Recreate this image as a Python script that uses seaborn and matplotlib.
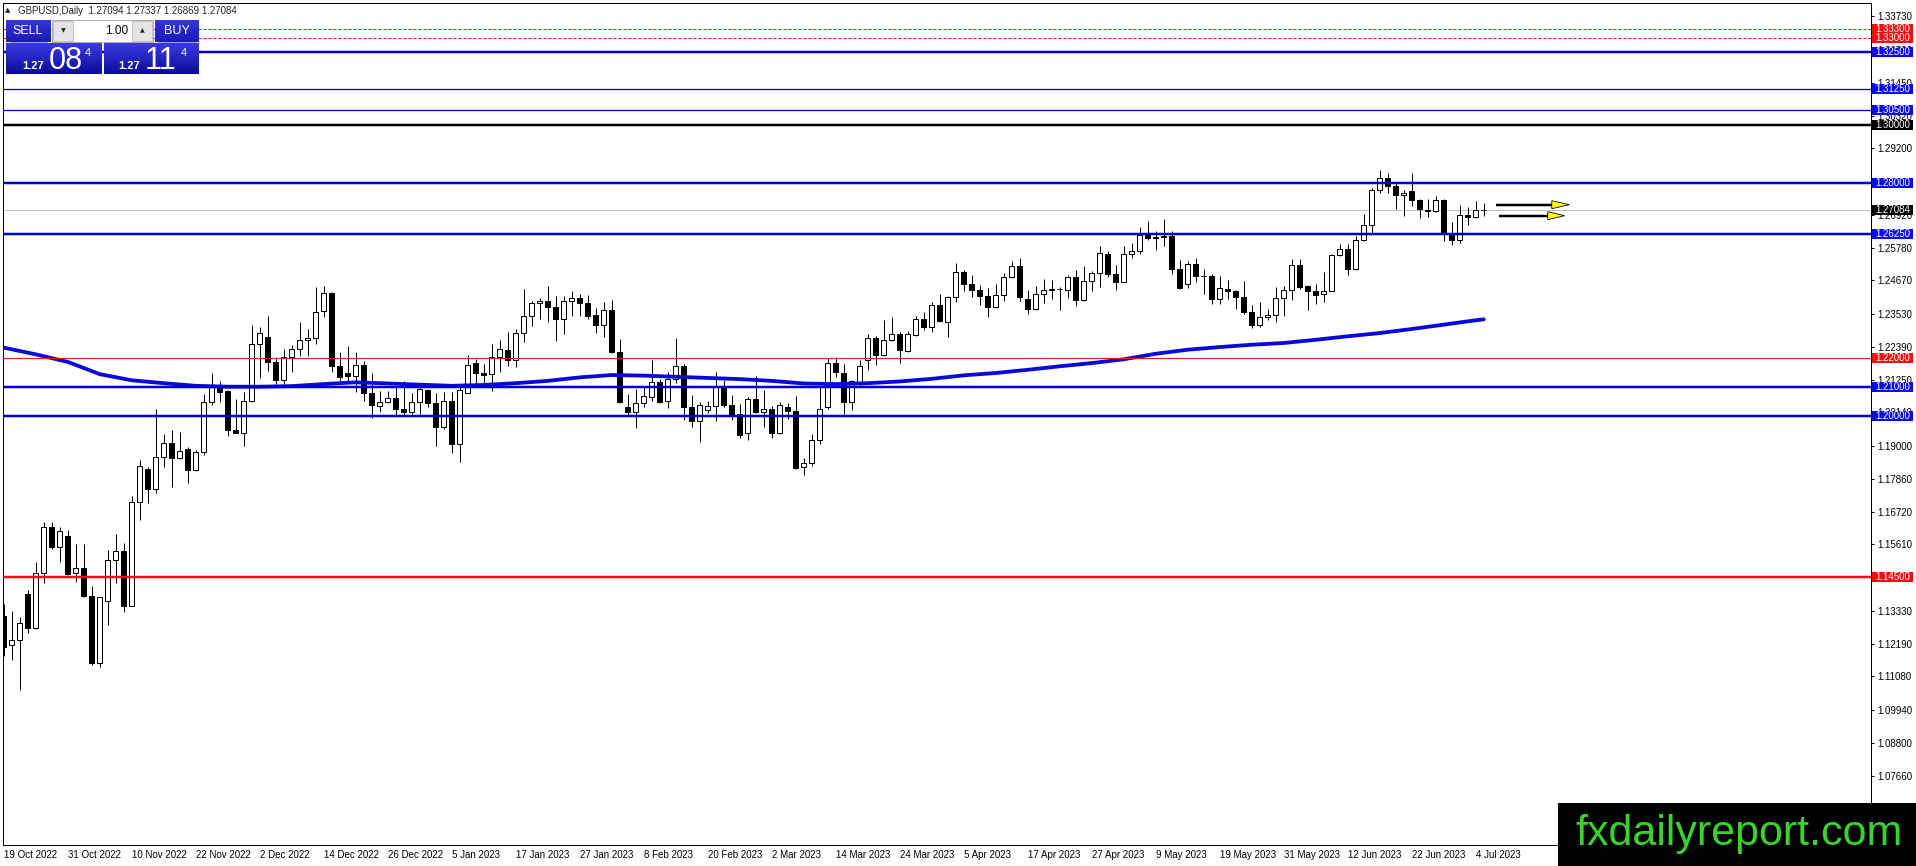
import numpy as np
import matplotlib
matplotlib.use("Agg")
import matplotlib.pyplot as plt
import matplotlib.transforms as mtransforms
from matplotlib.patches import Rectangle, Polygon
from matplotlib.colors import LinearSegmentedColormap
import seaborn as sns

# ----- daily GBPUSD candles, 19 Oct 2022 .. 5 Jul 2023 -----
opens = [1.1316, 1.1216, 1.1233, 1.1390, 1.1273, 1.1464, 1.1622, 1.1553, 1.1590, 1.1462,
         1.1479, 1.1384, 1.1153, 1.1365, 1.1508, 1.1539, 1.1350, 1.1708, 1.1819, 1.1750,
         1.1860, 1.1910, 1.1857, 1.1887, 1.1817, 1.1879, 1.2048, 1.2108, 1.2088, 1.1954,
         1.1942, 1.2053, 1.2249, 1.2274, 1.2186, 1.2126, 1.2203, 1.2233, 1.2262, 1.2268,
         1.2363, 1.2422, 1.2174, 1.2148, 1.2140, 1.2177, 1.2079, 1.2037, 1.2048, 1.2062,
         1.2027, 1.2014, 1.2050, 1.2090, 1.2045, 1.1962, 1.2052, 1.1907, 1.2082, 1.2182,
         1.2149, 1.2145, 1.2205, 1.2228, 1.2193, 1.2285, 1.2343, 1.2389, 1.2397, 1.2374,
         1.2336, 1.2397, 1.2408, 1.2389, 1.2348, 1.2313, 1.2366, 1.2220, 1.2031, 1.2016,
         1.2045, 1.2065, 1.2117, 1.2054, 1.2130, 1.2172, 1.2031, 1.1985, 1.2023, 1.2037,
         1.2105, 1.2040, 1.2010, 1.1942, 1.2060, 1.2016, 1.2025, 1.1942, 1.2031, 1.2020,
         1.1825, 1.1839, 1.1920, 1.2031, 1.2182, 1.2149, 1.2049, 1.2114, 1.2195, 1.2269,
         1.2210, 1.2261, 1.2283, 1.2226, 1.2278, 1.2334, 1.2307, 1.2382, 1.2324, 1.2410,
         1.2496, 1.2456, 1.2435, 1.2412, 1.2374, 1.2415, 1.2478, 1.2517, 1.2403, 1.2369,
         1.2420, 1.2437, 1.2437, 1.2435, 1.2478, 1.2401, 1.2466, 1.2492, 1.2559, 1.2489,
         1.2461, 1.2557, 1.2569, 1.2630, 1.2617, 1.2620, 1.2620, 1.2507, 1.2455, 1.2523,
         1.2481, 1.2483, 1.2403, 1.2437, 1.2432, 1.2410, 1.2358, 1.2313, 1.2341, 1.2347,
         1.2406, 1.2433, 1.2521, 1.2449, 1.2432, 1.2420, 1.2429, 1.2554, 1.2575, 1.2506,
         1.2607, 1.2656, 1.2778, 1.2818, 1.2790, 1.2759, 1.2773, 1.2744, 1.2710, 1.2704,
         1.2744, 1.2630, 1.2604, 1.2692, 1.2684, 1.27094]
highs = [1.1357, 1.1333, 1.1311, 1.1405, 1.1499, 1.1636, 1.1639, 1.1622, 1.1611, 1.1563,
         1.1563, 1.1418, 1.1382, 1.1540, 1.1597, 1.1565, 1.1727, 1.1849, 1.1828, 1.2026,
         1.1940, 1.1954, 1.1946, 1.1894, 1.1885, 1.2076, 1.2148, 1.2123, 1.2091, 1.2060,
         1.2085, 1.2312, 1.2306, 1.2344, 1.2205, 1.2233, 1.2245, 1.2325, 1.2300, 1.2443,
         1.2446, 1.2426, 1.2222, 1.2240, 1.2222, 1.2191, 1.2148, 1.2088, 1.2088, 1.2100,
         1.2122, 1.2079, 1.2100, 1.2094, 1.2082, 1.2085, 1.2085, 1.2100, 1.2210, 1.2197,
         1.2180, 1.2248, 1.2262, 1.2288, 1.2300, 1.2437, 1.2397, 1.2405, 1.2448, 1.2412,
         1.2412, 1.2429, 1.2420, 1.2416, 1.2371, 1.2394, 1.2400, 1.2265, 1.2077, 1.2094,
         1.2105, 1.2193, 1.2128, 1.2151, 1.2269, 1.2180, 1.2073, 1.2048, 1.2054, 1.2151,
         1.2126, 1.2073, 1.2042, 1.2068, 1.2140, 1.2090, 1.2037, 1.2048, 1.2046, 1.2069,
         1.1859, 1.1939, 1.2105, 1.2199, 1.2203, 1.2181, 1.2126, 1.2192, 1.2283, 1.2277,
         1.2332, 1.2341, 1.2288, 1.2292, 1.2346, 1.2360, 1.2391, 1.2420, 1.2414, 1.2527,
         1.2504, 1.2486, 1.2452, 1.2441, 1.2454, 1.2492, 1.2535, 1.2544, 1.2435, 1.2449,
         1.2472, 1.2467, 1.2444, 1.2486, 1.2504, 1.2515, 1.2498, 1.2584, 1.2569, 1.2521,
         1.2586, 1.2595, 1.2650, 1.2670, 1.2637, 1.2679, 1.2637, 1.2538, 1.2532, 1.2544,
         1.2506, 1.2490, 1.2483, 1.2469, 1.2435, 1.2466, 1.2383, 1.2393, 1.2369, 1.2444,
         1.2446, 1.2540, 1.2540, 1.2452, 1.2454, 1.2496, 1.2557, 1.2590, 1.2592, 1.2620,
         1.2695, 1.2784, 1.2847, 1.2835, 1.2801, 1.2778, 1.2835, 1.2746, 1.2746, 1.2758,
         1.2746, 1.2666, 1.2727, 1.2719, 1.2738, 1.27337]
lows = [1.1178, 1.1165, 1.1060, 1.1256, 1.1270, 1.1428, 1.1544, 1.1499, 1.1456, 1.1433,
        1.1382, 1.1147, 1.1139, 1.1285, 1.1428, 1.1330, 1.1348, 1.1643, 1.1704, 1.1736,
        1.1828, 1.1759, 1.1853, 1.1773, 1.1813, 1.1868, 1.2040, 1.2051, 1.1933, 1.1942,
        1.1897, 1.2048, 1.2131, 1.2157, 1.2110, 1.2111, 1.2153, 1.2206, 1.2208, 1.2248,
        1.2340, 1.2153, 1.2119, 1.2122, 1.2085, 1.2054, 1.1993, 1.2016, 1.2046, 1.2005,
        1.2005, 1.2008, 1.2008, 1.2031, 1.1899, 1.1957, 1.1873, 1.1842, 1.2082, 1.2111,
        1.2111, 1.2088, 1.2151, 1.2172, 1.2168, 1.2254, 1.2311, 1.2334, 1.2323, 1.2260,
        1.2283, 1.2343, 1.2343, 1.2336, 1.2286, 1.2271, 1.2217, 1.2046, 1.2005, 1.1959,
        1.2034, 1.2054, 1.2046, 1.2029, 1.2114, 1.1989, 1.1965, 1.1913, 1.2011, 1.1985,
        1.2031, 1.1989, 1.1926, 1.1920, 1.2011, 1.1965, 1.1925, 1.1939, 1.1991, 1.1819,
        1.1799, 1.1831, 1.1905, 1.2027, 1.2134, 1.2008, 1.2023, 1.2103, 1.2160, 1.2175,
        1.2206, 1.2258, 1.2185, 1.2220, 1.2275, 1.2298, 1.2288, 1.2323, 1.2272, 1.2391,
        1.2429, 1.2409, 1.2383, 1.2341, 1.2372, 1.2395, 1.2475, 1.2395, 1.2352, 1.2364,
        1.2389, 1.2403, 1.2364, 1.2406, 1.2380, 1.2397, 1.2431, 1.2443, 1.2478, 1.2433,
        1.2460, 1.2544, 1.2557, 1.2606, 1.2572, 1.2584, 1.2490, 1.2437, 1.2441, 1.2460,
        1.2420, 1.2387, 1.2387, 1.2403, 1.2369, 1.2353, 1.2303, 1.2307, 1.2330, 1.2323,
        1.2344, 1.2398, 1.2437, 1.2364, 1.2387, 1.2392, 1.2429, 1.2550, 1.2485, 1.2501,
        1.2601, 1.2626, 1.2767, 1.2767, 1.2712, 1.2687, 1.2721, 1.2681, 1.2684, 1.2700,
        1.2601, 1.2587, 1.2595, 1.2656, 1.2681, 1.26869]
closes = [1.1210, 1.1233, 1.1290, 1.1273, 1.1464, 1.1622, 1.1553, 1.1608, 1.1460, 1.1479,
          1.1384, 1.1153, 1.1379, 1.1508, 1.1539, 1.1350, 1.1708, 1.1830, 1.1750, 1.1860,
          1.1910, 1.1857, 1.1883, 1.1817, 1.1879, 1.2048, 1.2108, 1.2085, 1.1952, 1.1942,
          1.2053, 1.2249, 1.2286, 1.2186, 1.2126, 1.2203, 1.2233, 1.2262, 1.2269, 1.2360,
          1.2422, 1.2174, 1.2134, 1.2140, 1.2177, 1.2079, 1.2040, 1.2048, 1.2062, 1.2025,
          1.2016, 1.2050, 1.2094, 1.2045, 1.1962, 1.2052, 1.1907, 1.2090, 1.2177, 1.2148,
          1.2143, 1.2205, 1.2231, 1.2193, 1.2285, 1.2343, 1.2389, 1.2397, 1.2374, 1.2336,
          1.2397, 1.2408, 1.2389, 1.2346, 1.2313, 1.2366, 1.2220, 1.2048, 1.2016, 1.2045,
          1.2071, 1.2117, 1.2050, 1.2130, 1.2172, 1.2031, 1.1985, 1.2039, 1.2037, 1.2105,
          1.2040, 1.2008, 1.1937, 1.2060, 1.2014, 1.2025, 1.1942, 1.2040, 1.2020, 1.1822,
          1.1839, 1.1920, 1.2027, 1.2182, 1.2151, 1.2049, 1.2120, 1.2174, 1.2269, 1.2210,
          1.2261, 1.2283, 1.2227, 1.2283, 1.2334, 1.2306, 1.2382, 1.2326, 1.2410, 1.2496,
          1.2456, 1.2433, 1.2412, 1.2374, 1.2415, 1.2478, 1.2515, 1.2409, 1.2369, 1.2420,
          1.2435, 1.2434, 1.2436, 1.2478, 1.2401, 1.2466, 1.2492, 1.2561, 1.2489, 1.2461,
          1.2557, 1.2569, 1.2624, 1.2612, 1.2612, 1.2615, 1.2506, 1.2441, 1.2523, 1.2481,
          1.2481, 1.2403, 1.2441, 1.2429, 1.2410, 1.2357, 1.2313, 1.2340, 1.2349, 1.2406,
          1.2433, 1.2521, 1.2443, 1.2429, 1.2416, 1.2429, 1.2554, 1.2575, 1.2506, 1.2607,
          1.2656, 1.2778, 1.2818, 1.2790, 1.2759, 1.2766, 1.2742, 1.2712, 1.2706, 1.2744,
          1.2627, 1.2604, 1.2692, 1.2684, 1.2709, 1.27084]

# moving average (blue line), read every 4 bars
ma_bars = [0, 4, 8, 12, 16, 20, 24, 28, 32, 36, 40, 44, 48, 52, 56, 60, 64, 68, 72, 76,
           80, 84, 88, 92, 96, 100, 104, 108, 112, 116, 120, 124, 128, 132, 136, 140,
           144, 148, 152, 156, 160, 164, 168, 172, 176, 180, 184, 185]
ma_vals = [1.2236, 1.2213, 1.2187, 1.2145, 1.2124, 1.2114, 1.2105, 1.2102, 1.2102, 1.2104,
           1.2111, 1.2117, 1.2113, 1.2109, 1.2105, 1.2108, 1.2114, 1.2122, 1.2134, 1.2142,
           1.2140, 1.2136, 1.2132, 1.2128, 1.2122, 1.2113, 1.2111, 1.2114, 1.2120, 1.2129,
           1.2141, 1.2149, 1.2160, 1.2172, 1.2183, 1.2196, 1.2215, 1.2229, 1.2238, 1.2246,
           1.2252, 1.2263, 1.2275, 1.2286, 1.2300, 1.2315, 1.2330, 1.2333]

date_labels = ["19 Oct 2022", "31 Oct 2022", "10 Nov 2022", "22 Nov 2022", "2 Dec 2022",
               "14 Dec 2022", "26 Dec 2022", "5 Jan 2023", "17 Jan 2023", "27 Jan 2023",
               "8 Feb 2023", "20 Feb 2023", "2 Mar 2023", "14 Mar 2023", "24 Mar 2023",
               "5 Apr 2023", "17 Apr 2023", "27 Apr 2023", "9 May 2023", "19 May 2023",
               "31 May 2023", "12 Jun 2023", "22 Jun 2023", "4 Jul 2023"]
price_ticks = [1.33730, 1.32590, 1.31450, 1.30320, 1.29200, 1.28060, 1.26920, 1.25780,
               1.24670, 1.23530, 1.22390, 1.21250, 1.20140, 1.19000, 1.17860, 1.16720,
               1.15610, 1.14470, 1.13330, 1.12190, 1.11080, 1.09940, 1.08800, 1.07660]

# horizontal levels: price, colour, width(px), style
level_prices = [1.3330, 1.3300, 1.3250, 1.3125, 1.3050, 1.3000, 1.2800, 1.2625,
                1.2200, 1.2100, 1.2000, 1.1450]
level_colors = ["#ee1010", "#ee1010", "#0000d0", "#0000d0", "#0000d0", "black", "#0000d0",
                "#0000d0", "#dd2020", "#0000d0", "#0000d0", "#ee1010"]
level_widths = [1, 1, 2.5, 1.3, 1.3, 2.5, 2.5, 2.5, 1.2, 2.5, 2.5, 2.5]
level_styles = ["--", "--", "-", "-", "-", "-", "-", "-", "-", "-", "-", "-"]
tag_colors = ["#f01010", "#f01010", "#0a0af0", "#0a0af0", "#0a0af0", "black", "#0a0af0",
              "#0a0af0", "#f01010", "#0a0af0", "#0a0af0", "#f01010"]
last_price = 1.27084

W, H = 1916, 866
sns.set_style("white")
plt.rcParams['font.family'] = ['Liberation Sans', 'DejaVu Sans']
PX = 0.72  # points per pixel at dpi 100

fig = plt.figure(figsize=(W / 100, H / 100), dpi=100)
fig.patch.set_facecolor("white")
ax = fig.add_axes([2.5 / W, (H - 845) / H, (1871 - 2.5) / W, (845 - 2.7) / H])
ymin, ymax = 1.05293, 1.34197
ax.set_xlim(-0.16, 233.4)
ax.set_ylim(ymin, ymax)
px_price = (ymax - ymin) / (845 - 2.7)

o = np.array(opens); h = np.array(highs); l = np.array(lows); c = np.array(closes)
x = np.arange(len(o))
up = c >= o
lo = np.minimum(o, c)
hgt = np.abs(c - o)

# current price line
ax.axhline(last_price, color="#c0c0c0", lw=1 * PX, zorder=1)

# candles
ax.vlines(x, l, h, color="black", lw=1 * PX, zorder=3)
ax.bar(x[up], hgt[up], bottom=lo[up], width=0.6, color="white", edgecolor="black",
       linewidth=1 * PX, zorder=4)
ax.bar(x[~up], hgt[~up], bottom=lo[~up], width=0.6, color="black", edgecolor="black",
       linewidth=1 * PX, zorder=4)

# moving average
sns.lineplot(x=ma_bars, y=ma_vals, ax=ax, color="#0a0ad8", lw=3.8 * PX, zorder=5)

# levels
for p, col, w, s in zip(level_prices, level_colors, level_widths, level_styles):
    ax.axhline(p, color=col, lw=w * PX, ls=s, zorder=5,
               dashes=(3, 2) if s == "--" else (None, None))

# arrows
for x0, x1, xh, yv in [(186.5, 193.5, 195.7, 1.27266), (186.9, 193.0, 195.1, 1.26888)]:
    ax.plot([x0, x1], [yv, yv], color="black", lw=2.5 * PX, zorder=6, solid_capstyle="butt")
    tri = Polygon([(x1, yv + 4 * px_price), (x1, yv - 4 * px_price), (xh, yv)],
                  closed=True, facecolor="#ffff00", edgecolor="black", lw=0.8 * PX, zorder=7)
    ax.add_patch(tri)

# axes look
for sp in ax.spines.values():
    sp.set_color("black")
    sp.set_linewidth(1 * PX)
ax.yaxis.tick_right()
ax.set_yticks(price_ticks)
ax.set_yticklabels([f"{p:.5f}" for p in price_ticks])
ax.set_xticks(range(0, 8 * len(date_labels), 8))
ax.set_xticklabels(date_labels)
ax.tick_params(axis="both", direction="out", length=3 * PX, width=1 * PX, labelsize=7,
               colors="black", pad=1.5)
ax.tick_params(axis="y", pad=2.5)
for lbl in ax.get_xticklabels():
    lbl.set_ha("left")
ax.set_xlabel("")
ax.set_ylabel("")
ax.grid(False)

# price tags on the right scale
tr = mtransforms.blended_transform_factory(mtransforms.IdentityTransform(), ax.transData)
tag_prices = level_prices + [last_price]
tag_cols = tag_colors + ["black"]
for p, col in zip(tag_prices, tag_cols):
    ax.add_patch(Rectangle((1872, p - 5 * px_price), 41, 10 * px_price, transform=tr,
                           facecolor=col, edgecolor="none", clip_on=False, zorder=10))
for p in tag_prices:
    ax.text(1875, p, f"{p:.5f}", transform=tr, color="white", fontsize=7, va="center",
            ha="left", clip_on=False, zorder=11)

# overlay in pixel units: header, trade panel, watermark
ov = fig.add_axes([0, 0, 1, 1])
ov.axis("off")

ov.text(8, 10.5, "▲", fontsize=5, va="center", ha="center", family=["DejaVu Sans"])
ov.text(18, 10.5, "GBPUSD,Daily  1.27094 1.27337 1.26869 1.27084", fontsize=7,
        va="center", ha="left")

grad = np.linspace(0, 1, 32).reshape(-1, 1)
big_cmap = LinearSegmentedColormap.from_list("big", ["#3a3ae4", "#0c0c9a"])
tab_cmap = LinearSegmentedColormap.from_list("tab", ["#3434dc", "#1a1ab4"])
for (x0, x1) in [(6, 102), (104, 199)]:
    ov.imshow(grad, cmap=big_cmap, extent=(x0, x1, 74, 43), aspect="auto", zorder=1)
for (x0, x1) in [(6, 51), (155, 199)]:
    ov.imshow(grad, cmap=tab_cmap, extent=(x0, x1, 42, 20), aspect="auto", zorder=1)
ov.plot([10, 47], [42, 42], color="#8a8aff", lw=0.6, zorder=2)
ov.plot([158, 196], [42, 42], color="#8a8aff", lw=0.6, zorder=2)
ov.add_patch(Rectangle((52, 20), 101, 22, facecolor="white", edgecolor="#a0a0a0", lw=0.6,
                       zorder=2))
ov.add_patch(Rectangle((53, 21), 20, 20, facecolor="#e4e4e4", edgecolor="#b0b0b0", lw=0.5,
                       zorder=3))
ov.add_patch(Rectangle((132, 21), 20, 20, facecolor="#e4e4e4", edgecolor="#b0b0b0", lw=0.5,
                       zorder=3))
ov.text(63, 31, "▼", fontsize=4.5, ha="center", va="center", family=["DejaVu Sans"], zorder=4)
ov.text(142, 31, "▲", fontsize=4.5, ha="center", va="center", family=["DejaVu Sans"], zorder=4)
ov.text(128, 31, "1.00", fontsize=8.5, ha="right", va="center", color="black", zorder=4)
ov.text(28, 31, "SELL", fontsize=9, ha="center", va="center", color="white", zorder=4)
ov.text(177, 31, "BUY", fontsize=9, ha="center", va="center", color="white", zorder=4)
for x0, big in [(22, "08"), (118, "11")]:
    ov.text(x0, 69, "1.27", fontsize=8, ha="left", va="baseline", color="white",
            fontweight="bold", zorder=4)
    ov.text(x0 + 27, 69, big, fontsize=22, ha="left", va="baseline", color="white", zorder=4)
    ov.text(x0 + 63, 56, "4", fontsize=8, ha="left", va="baseline", color="white", zorder=4)

ov.add_patch(Rectangle((1558, 803), W - 1558, H - 803, facecolor="black", edgecolor="none",
                       zorder=5))
ov.text(1575, 845, "fxdailyreport.com", fontsize=31, color="#3ad22c", ha="left",
        va="baseline", zorder=6)

ov.set_xlim(0, W)
ov.set_ylim(H, 0)

fig.savefig("out.png", dpi=100)
